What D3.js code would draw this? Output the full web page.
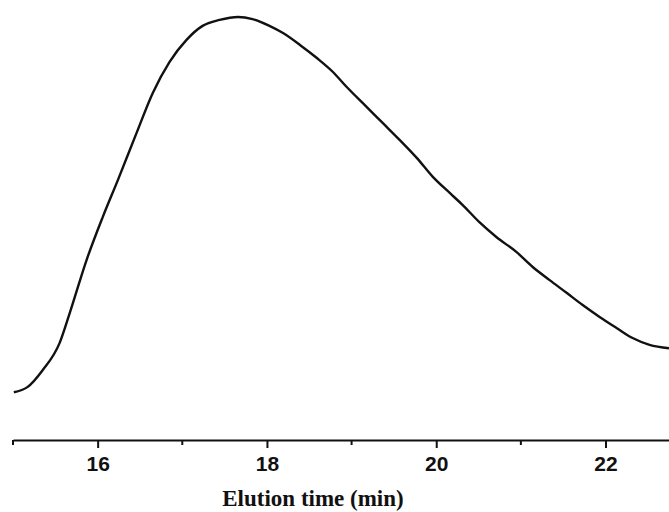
<!DOCTYPE html>
<html>
<head>
<meta charset="utf-8">
<script src="https://cdn.jsdelivr.net/npm/d3@7"></script>
<style>
  html, body { margin: 0; padding: 0; background: #fff; }
  svg { display: block; }
</style>
</head>
<body>
<svg id="chart" width="669" height="512"></svg>
<script>
// Elution time (min)
const time = [15.01, 15.17, 15.35, 15.55, 15.67, 15.87, 16.06, 16.24, 16.46, 16.65,
  16.85, 17.05, 17.24, 17.44, 17.66, 17.83, 18.03, 18.19, 18.39, 18.59,
  18.78, 18.94, 19.18, 19.37, 19.57, 19.77, 19.96, 20.16, 20.31, 20.51,
  20.71, 20.95, 21.14, 21.34, 21.54, 21.73, 21.93, 22.13, 22.32, 22.52, 22.75];
// Detector signal (normalized)
const signal = [0.113, 0.125, 0.165, 0.229, 0.300, 0.426, 0.527, 0.615, 0.726, 0.820,
  0.894, 0.946, 0.979, 0.993, 1.000, 0.995, 0.979, 0.962, 0.934, 0.903,
  0.870, 0.835, 0.787, 0.749, 0.709, 0.667, 0.622, 0.584, 0.556, 0.515,
  0.480, 0.444, 0.409, 0.378, 0.348, 0.319, 0.291, 0.265, 0.241, 0.225, 0.217];
const majorTicks = [16, 18, 20, 22];
const minorTicks = [15, 17, 19, 21];
const xTitle = "Elution time (min)";

const svg = d3.select("#chart");
const xDomain = [15, 22.75];
const x = d3.scaleLinear().domain(xDomain).range([13, 669]);
const y = d3.scaleLinear().domain([0, 1]).range([440, 17]);
const axisY = 440;

const data = time.map((t, i) => ({ t, v: signal[i] }));

svg.append("path")
  .datum(data)
  .attr("fill", "none")
  .attr("stroke", "#111")
  .attr("stroke-width", 2.4)
  .attr("stroke-linejoin", "round")
  .attr("d", d3.line().x(d => x(d.t)).y(d => y(d.v)).curve(d3.curveMonotoneX));

// axis
const gx = svg.append("g").attr("transform", `translate(0,${axisY})`);
const major = d3.axisBottom(x).tickValues(majorTicks).tickSize(8).tickSizeOuter(0).tickPadding(8)
  .tickFormat(d3.format("d"));
gx.call(major);
gx.select(".domain").attr("stroke", "#111").attr("stroke-width", 2.2);
gx.selectAll(".tick line").attr("stroke", "#111").attr("stroke-width", 2);
gx.selectAll(".tick text")
  .attr("fill", "#111")
  .attr("font-family", "'Liberation Sans', Arial, sans-serif")
  .attr("font-weight", "bold")
  .attr("font-size", 21);

const gm = svg.append("g").attr("transform", `translate(0,${axisY})`);
gm.selectAll("line").data(minorTicks).join("line")
  .attr("x1", d => x(d)).attr("x2", d => x(d))
  .attr("y1", 0).attr("y2", 5)
  .attr("stroke", "#111").attr("stroke-width", 2);

svg.append("text")
  .attr("x", 313)
  .attr("y", 506)
  .attr("text-anchor", "middle")
  .attr("font-family", "'Liberation Serif', 'Times New Roman', serif")
  .attr("font-weight", "bold")
  .attr("font-size", 23)
  .attr("fill", "#111")
  .text(xTitle);
</script>
</body>
</html>
